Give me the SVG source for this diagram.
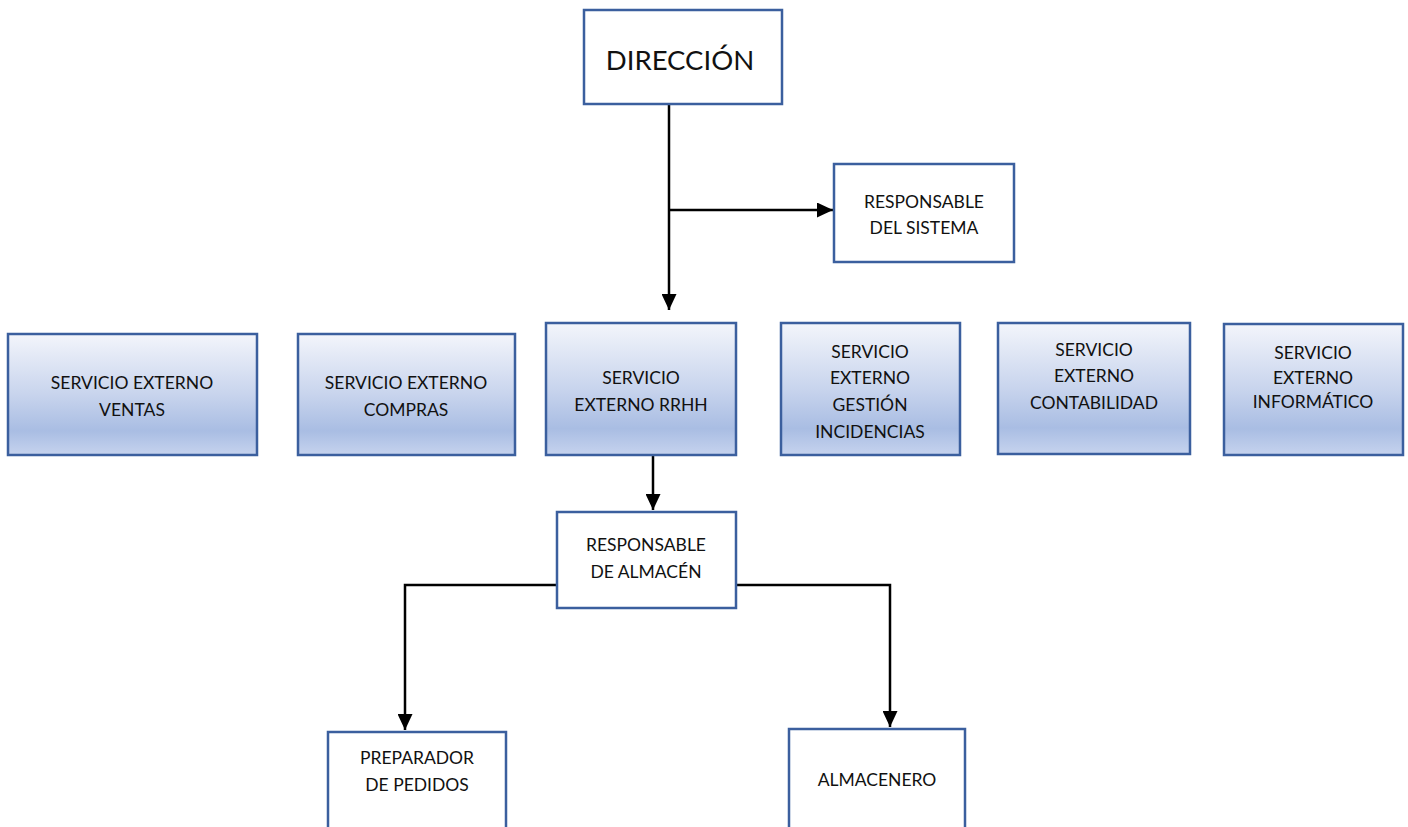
<svg xmlns="http://www.w3.org/2000/svg" width="1408" height="827" viewBox="0 0 1408 827">
<style>
.box{fill:#ffffff;stroke:#3b5f9e;stroke-width:2.5}
.gbox{fill:url(#grad);stroke:#3b5f9e;stroke-width:2.5}
.t{font-family:Lato,"Open Sans","Liberation Sans",sans-serif;font-size:17.5px;fill:#111;text-anchor:middle}
.big{font-size:27.5px}
.c{fill:none;stroke:#000;stroke-width:2.5}
</style>
<defs>
<linearGradient id="grad" x1="0" y1="0" x2="0" y2="1">
<stop offset="0" stop-color="#f3f5fb"/>
<stop offset="0.5" stop-color="#c8d4ed"/>
<stop offset="0.8" stop-color="#a9bde3"/>
<stop offset="1" stop-color="#c6d3ee"/>
</linearGradient>
<marker id="arrL" viewBox="0 0 16 15" refX="16" refY="7.5" markerWidth="16" markerHeight="15" orient="auto" markerUnits="userSpaceOnUse">
<path d="M0,0 L16,7.5 L0,15 z" fill="#000"/>
</marker>
</defs>
<g id="connectors">
<path class="c" d="M669,104 V310" marker-end="url(#arrL)"/>
<path class="c" d="M669,210 H833" marker-end="url(#arrL)"/>
<path class="c" d="M653,455 V510" marker-end="url(#arrL)"/>
<path class="c" d="M557,585 H405 V730" marker-end="url(#arrL)"/>
<path class="c" d="M736,585 H890 V727" marker-end="url(#arrL)"/>
</g>
<g id="direccion">
<rect class="box" x="584" y="10" width="198" height="94"/>
<text class="t big" x="680" y="70">DIRECCIÓN</text>
</g>
<g id="resp-sistema">
<rect class="box" x="834" y="164" width="180" height="98"/>
<text class="t" x="924" y="208">RESPONSABLE</text>
<text class="t" x="924" y="234">DEL SISTEMA</text>
</g>
<g id="ventas">
<rect class="gbox" x="8" y="334" width="249" height="121"/>
<text class="t" x="132" y="389">SERVICIO EXTERNO</text>
<text class="t" x="132" y="416">VENTAS</text>
</g>
<g id="compras">
<rect class="gbox" x="298" y="334" width="217" height="121"/>
<text class="t" x="406" y="389">SERVICIO EXTERNO</text>
<text class="t" x="406" y="416">COMPRAS</text>
</g>
<g id="rrhh">
<rect class="gbox" x="546" y="323" width="190" height="132"/>
<text class="t" x="641" y="384">SERVICIO</text>
<text class="t" x="641" y="411">EXTERNO RRHH</text>
</g>
<g id="incidencias">
<rect class="gbox" x="781" y="323" width="179" height="132"/>
<text class="t" x="870" y="358">SERVICIO</text>
<text class="t" x="870" y="384">EXTERNO</text>
<text class="t" x="870" y="411">GESTIÓN</text>
<text class="t" x="870" y="438">INCIDENCIAS</text>
</g>
<g id="contabilidad">
<rect class="gbox" x="998" y="323" width="192" height="131"/>
<text class="t" x="1094" y="356">SERVICIO</text>
<text class="t" x="1094" y="382">EXTERNO</text>
<text class="t" x="1094" y="409">CONTABILIDAD</text>
</g>
<g id="informatico">
<rect class="gbox" x="1224" y="324" width="179" height="131"/>
<text class="t" x="1313" y="359">SERVICIO</text>
<text class="t" x="1313" y="384">EXTERNO</text>
<text class="t" x="1313" y="408">INFORMÁTICO</text>
</g>
<g id="resp-almacen">
<rect class="box" x="557" y="512" width="179" height="96"/>
<text class="t" x="646" y="551">RESPONSABLE</text>
<text class="t" x="646" y="578">DE ALMACÉN</text>
</g>
<g id="preparador">
<rect class="box" x="328" y="732" width="178" height="110"/>
<text class="t" x="417" y="764">PREPARADOR</text>
<text class="t" x="417" y="791">DE PEDIDOS</text>
</g>
<g id="almacenero">
<rect class="box" x="789" y="729" width="176" height="110"/>
<text class="t" x="877" y="786">ALMACENERO</text>
</g>
</svg>
